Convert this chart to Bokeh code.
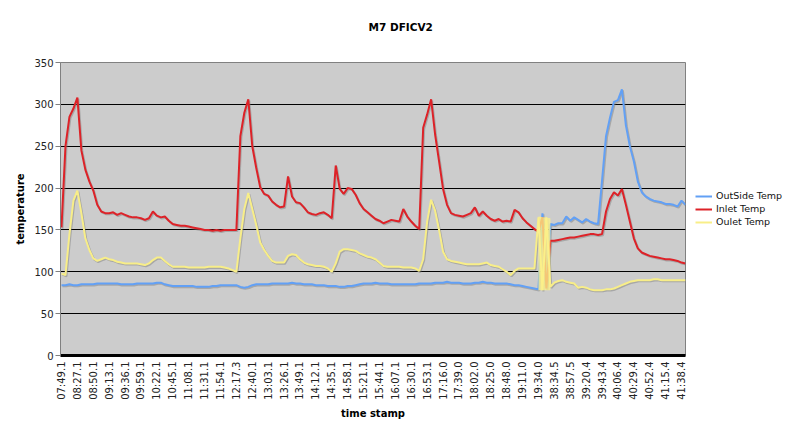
import math
from bokeh.plotting import figure
from bokeh.models import FixedTicker, Legend, LegendItem, Range1d
from bokeh.embed import file_html
from bokeh.resources import INLINE

# ---- data ----
title_text = "M7 DFICV2"
time_labels = [
    "07:49.1", "08:27.1", "08:50.1", "09:13.1", "09:36.1", "09:59.1", "10:22.1", "10:45.1",
    "11:08.1", "11:31.1", "11:54.1", "12:17.3", "12:40.1", "13:03.1", "13:26.1", "13:49.1",
    "14:12.1", "14:35.1", "14:58.1", "15:21.1", "15:44.1", "16:07.1", "16:30.1", "16:53.1",
    "17:16.0", "17:39.0", "18:02.0", "18:25.0", "18:48.0", "19:11.0", "19:34.0", "38:34.5",
    "38:57.5", "39:20.4", "39:43.4", "40:06.4", "40:29.4", "40:52.4", "41:15.4", "41:38.4",
]
samples_per_label = 4

outside_temp = [
    84, 84, 85, 84, 84, 85, 85, 85, 85, 86,
    86, 86, 86, 86, 86, 85, 85, 85, 85, 86,
    86, 86, 86, 86, 87, 87, 85, 84, 83, 83,
    83, 83, 83, 83, 82, 82, 82, 82, 83, 83,
    84, 84, 84, 84, 84, 82, 81, 82, 84, 85,
    85, 85, 85, 86, 86, 86, 86, 86, 87, 86,
    86, 85, 85, 85, 84, 84, 84, 83, 83, 83,
    82, 82, 83, 83, 84, 85, 86, 86, 86, 87,
    86, 86, 86, 85, 85, 85, 85, 85, 85, 85,
    86, 86, 86, 86, 87, 87, 87, 88, 87, 87,
    87, 86, 86, 86, 87, 87, 88, 87, 87, 86,
    86, 86, 86, 85, 84, 84, 83, 82, 81, 80,
    79, 170, 80, 157, 156, 158, 158, 166, 161, 165,
    162, 159, 163, 160, 158, 157, 209, 262, 284, 303,
    305, 318, 275, 250, 232, 208, 195, 190, 187, 185,
    184, 183, 181, 181, 180, 178, 185, 180,
]

inlet_temp = [
    153, 250, 285, 295, 308, 245, 222, 208, 197, 180,
    172, 170, 170, 171, 168, 170, 168, 166, 165, 165,
    164, 162, 164, 172, 167, 165, 166, 161, 157, 156,
    155, 155, 154, 153, 152, 151, 150, 150, 149, 150,
    149, 150, 150, 150, 150, 262, 290, 306, 250, 224,
    201, 193, 191, 184, 180, 177, 178, 214, 190, 183,
    182, 177, 171, 169, 168, 170, 171, 168, 164, 227,
    199, 193, 200, 199, 192, 182, 175, 171, 167, 163,
    161, 158, 160, 162, 161, 160, 175, 166, 160, 155,
    151, 272, 288, 306, 264, 232, 199, 180, 170, 168,
    167, 166, 168, 170, 177, 167, 172, 167, 163, 161,
    163, 160, 161, 160, 174, 171, 164, 159, 155, 151,
    148, 165, 80, 137, 137, 138, 139, 140, 141, 141,
    142, 143, 144, 145, 145, 144, 145, 172, 187, 195,
    191, 199, 180, 160, 140, 128, 123, 121, 119, 118,
    117, 116, 115, 115, 114, 113, 111, 110,
]

oulet_temp = [
    98, 96, 145, 185, 197, 170, 140, 126, 116, 113,
    115, 117, 115, 114, 112, 111, 110, 110, 110, 110,
    109, 108, 110, 114, 117, 117, 113, 109, 106, 106,
    106, 106, 105, 105, 105, 105, 105, 106, 106, 106,
    106, 105, 104, 102, 100, 140, 175, 194, 175, 156,
    135, 126, 119, 113, 111, 111, 111, 119, 121, 120,
    115, 111, 109, 108, 107, 107, 106, 104, 100, 110,
    124, 127, 127, 126, 125, 122, 120, 118, 117, 115,
    111, 107, 106, 106, 106, 106, 105, 105, 105, 104,
    101, 115, 160, 186, 173, 150, 124, 115, 113, 112,
    111, 110, 109, 109, 109, 109, 110, 111, 108, 107,
    106, 103, 100, 96, 101, 104, 104, 104, 104, 104,
    165, 78, 165, 82, 87, 89, 90, 88, 87, 86,
    81, 82, 81, 79, 78, 78, 78, 79, 79, 80,
    82, 84, 86, 88, 89, 90, 90, 90, 90, 91,
    91, 90, 90, 90, 90, 90, 90, 90,
]

# rapid-oscillation section (sample index range and value envelope)
band_idx = [120, 123]
band_low = [78, 78]
band_high = [166, 164]

y_ticks = [0, 50, 100, 150, 200, 250, 300, 350]

# ---- figure ----
n = len(inlet_temp)
idx = list(range(n))
FONT = "DejaVu Sans"

p = figure(
    frame_width=625, frame_height=293, output_backend="svg", toolbar_location=None,
    x_range=Range1d(-0.25, n - 1), y_range=Range1d(0, 350),
    min_border_left=60, min_border_right=110, min_border_top=62, min_border_bottom=73,
    background_fill_color="#CCCCCC", border_fill_color="white",
    outline_line_color="#808080",
)

p.title.text = title_text + "\n"
p.title.align = "left"
p.title.offset = 308
p.title.text_font = FONT
p.title.text_font_size = "10.5px"
p.title.text_font_style = "bold"
p.title.text_color = "black"
p.title.text_line_height = 0.85
p.title.standoff = 38

# axes
p.xaxis.ticker = FixedTicker(ticks=[i * samples_per_label for i in range(len(time_labels))])
p.xaxis.major_label_overrides = {i * samples_per_label: lab for i, lab in enumerate(time_labels)}
p.xaxis.major_label_orientation = math.pi / 2
p.xaxis.major_label_text_font = FONT
p.xaxis.major_label_text_font_size = "10px"
p.xaxis.major_label_text_color = "#222222"
p.xaxis.major_label_standoff = 6
p.xaxis.major_tick_out = 0
p.xaxis.major_tick_in = 0
p.xaxis.minor_tick_out = 0
p.xaxis.minor_tick_in = 0
p.xaxis.axis_line_width = 3
p.xaxis.axis_line_color = "black"
p.xaxis.axis_label = "time stamp"
p.xaxis.axis_label_text_font = FONT
p.xaxis.axis_label_text_font_size = "10px"
p.xaxis.axis_label_text_font_style = "bold"
p.xaxis.axis_label_text_color = "black"
p.xaxis.axis_label_standoff = 5

p.yaxis.ticker = FixedTicker(ticks=y_ticks)
p.yaxis.major_label_text_font = FONT
p.yaxis.major_label_text_font_size = "10px"
p.yaxis.major_label_text_color = "#222222"
p.yaxis.major_label_standoff = 2
p.yaxis.major_tick_out = 5
p.yaxis.major_tick_in = 0
p.yaxis.minor_tick_out = 0
p.yaxis.minor_tick_in = 0
p.yaxis.major_tick_line_color = "#808080"
p.yaxis.axis_line_color = "#808080"
p.yaxis.axis_label = "temperature"
p.yaxis.axis_label_text_font = FONT
p.yaxis.axis_label_text_font_size = "10px"
p.yaxis.axis_label_text_font_style = "bold"
p.yaxis.axis_label_text_color = "black"
p.yaxis.axis_label_standoff = 5

p.xgrid.visible = False
p.ygrid.ticker = FixedTicker(ticks=y_ticks)
p.ygrid.grid_line_color = "black"
p.ygrid.grid_line_width = 1

series = [
    ("OutSide Temp", outside_temp, "#62A0F5"),
    ("Inlet Temp", inlet_temp, "#DD2228"),
    ("Oulet Temp", oulet_temp, "#F8EE88"),
]

items = []
for name, vals, col in series:
    # soft drop shadow: shifted copy of the same data
    p.line([i + 0.25 for i in idx], [v - 1.4 for v in vals],
           line_color="#7a7a7a", line_width=2, line_alpha=0.45)
for name, vals, col in series:
    r = p.line(idx, vals, line_color=col, line_width=2)
    items.append(LegendItem(label=name, renderers=[r]))

# oscillation envelope (drawn over the lines, semi-opaque)
p.varea(x=band_idx, y1=band_low, y2=band_high, fill_color="#FBF08A", fill_alpha=0.8)

legend = Legend(
    items=items, location="center_left", orientation="vertical",
    border_line_color=None, background_fill_alpha=0,
    label_text_font=FONT, label_text_font_size="9.5px", label_text_color="#111111",
    glyph_width=17, glyph_height=12, label_height=12, label_standoff=4,
    spacing=1, padding=0, margin=10,
)
p.add_layout(legend, "right")

open("out.html", "w").write(file_html(p, INLINE))
